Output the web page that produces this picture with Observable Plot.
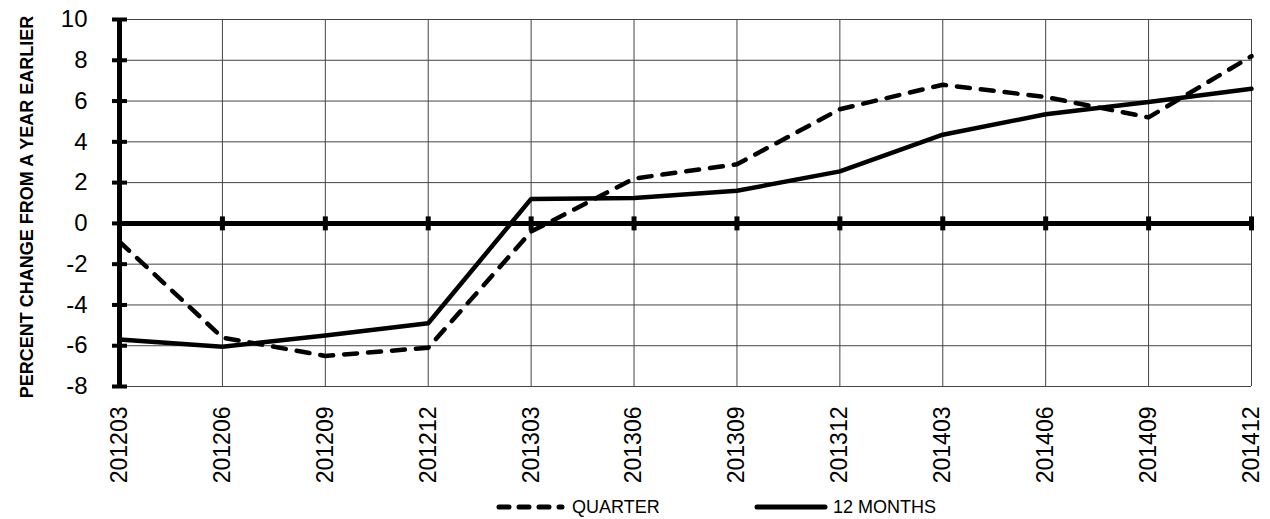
<!DOCTYPE html>
<html>
<head>
<meta charset="utf-8">
<script src="https://cdn.jsdelivr.net/npm/d3@7"></script>
<script src="https://cdn.jsdelivr.net/npm/@observablehq/plot@0.6"></script>
<style>
  html, body { margin: 0; padding: 0; background: #fff; }
  #wrap { position: relative; width: 1270px; height: 519px; font-family: "Liberation Sans", Arial, sans-serif; }
  #wrap svg { overflow: visible; }
  #legend { position: absolute; left: 0; top: 495px; }
</style>
</head>
<body>
<div id="wrap"></div>
<script>
const categories = ["201203","201206","201209","201212","201303","201306","201309","201312","201403","201406","201409","201412"];
const quarter = [-0.9, -5.6, -6.5, -6.1, -0.4, 2.2, 2.9, 5.6, 6.8, 6.2, 5.2, 8.2];
const twelveMonths = [-5.7, -6.05, -5.5, -4.9, 1.2, 1.25, 1.6, 2.55, 4.35, 5.35, 5.95, 6.6];
const yTicks = [-8, -6, -4, -2, 0, 2, 4, 6, 8, 10];
const seriesNames = ["QUARTER", "12 MONTHS"];
const yTitle = "PERCENT CHANGE FROM A YEAR EARLIER";

const quarterRows = categories.map((c, i) => ({period: c, value: quarter[i], series: seriesNames[0]}));
const twelveRows = categories.map((c, i) => ({period: c, value: twelveMonths[i], series: seriesNames[1]}));

const hTick = {draw(ctx) { ctx.rect(-7.5, -2, 15, 4); }};
const vTick = {draw(ctx) { ctx.rect(-2.5, -7, 5, 14); }};

const chart = Plot.plot({
  width: 1270,
  height: 495,
  marginLeft: 119,
  marginRight: 19,
  marginTop: 19,
  marginBottom: 109,
  style: {fontFamily: "'Liberation Sans', Arial, sans-serif", background: "#fff", color: "#000", overflow: "visible"},
  x: {type: "point", domain: categories, padding: 0, round: false},
  y: {domain: [-8, 10]},
  marks: [
    Plot.ruleY(yTicks, {stroke: "#444", strokeWidth: 1}),
    Plot.ruleX(categories, {x: d => d, stroke: "#444", strokeWidth: 1}),
    Plot.ruleY([0], {stroke: "#000", strokeWidth: 5}),
    Plot.ruleX([categories[0]], {x: d => d, y1: -8, y2: 10, stroke: "#000", strokeWidth: 5}),
    Plot.dot(yTicks, {x: () => categories[0], y: d => d, symbol: hTick, fill: "#000", stroke: "none", r: 3}),
    Plot.dot(categories, {x: d => d, y: () => 0, symbol: vTick, fill: "#000", stroke: "none", r: 3}),
    Plot.line(quarterRows, {x: "period", y: "value", stroke: "#000", strokeWidth: 4.5, strokeDasharray: "13,11", strokeLinecap: "round", strokeLinejoin: "round"}),
    Plot.line(twelveRows, {x: "period", y: "value", stroke: "#000", strokeWidth: 4.5, strokeLinejoin: "round"}),
    Plot.axisY({ticks: yTicks, tickSize: 0, tickPadding: 32, fontSize: 24, tickFormat: d => String(d), label: null}),
    Plot.axisX({tickSize: 0, tickRotate: -90, tickPadding: 20, fontSize: 23, label: null}),
    Plot.text([yTitle], {text: d => d, frameAnchor: "left", textAnchor: "middle", dx: -92, dy: 4, rotate: -90, fontSize: 18, fontWeight: "bold", fill: "#000"})
  ]
});
document.getElementById("wrap").appendChild(chart);

// Legend below the chart
const legend = d3.select("#wrap").append("svg")
  .attr("id", "legend")
  .attr("width", 1270).attr("height", 24);
const ly = 12;
legend.append("line").attr("x1", 499).attr("x2", 562).attr("y1", ly).attr("y2", ly)
  .attr("stroke", "#000").attr("stroke-width", 5).attr("stroke-dasharray", "10,10").attr("stroke-linecap", "round");
legend.append("text").attr("x", 572).attr("y", ly).attr("dy", "0.35em")
  .attr("font-size", 18).attr("font-family", "'Liberation Sans', Arial, sans-serif").text(seriesNames[0]);
legend.append("line").attr("x1", 757).attr("x2", 825).attr("y1", ly).attr("y2", ly)
  .attr("stroke", "#000").attr("stroke-width", 5).attr("stroke-linecap", "round");
legend.append("text").attr("x", 833).attr("y", ly).attr("dy", "0.35em")
  .attr("font-size", 18).attr("font-family", "'Liberation Sans', Arial, sans-serif").text(seriesNames[1]);
</script>
</body>
</html>
